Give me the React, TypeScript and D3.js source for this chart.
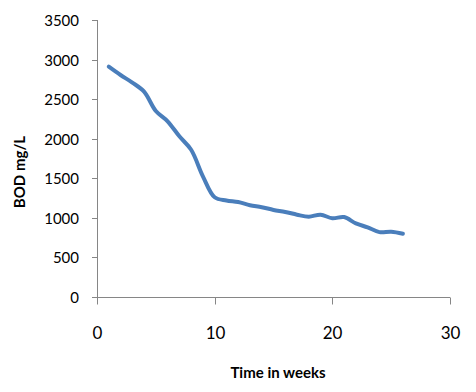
import { useEffect, useRef } from 'react';
import * as d3 from 'd3';

const weeks = [1, 2, 3, 4, 5, 6, 7, 8, 9, 10, 11, 12, 13, 14, 15, 16, 17, 18, 19, 20, 21, 22, 23, 24, 25, 26];
const bod = [2910, 2805, 2710, 2595, 2350, 2220, 2030, 1860, 1525, 1260, 1220, 1200, 1160, 1135, 1100, 1075, 1040, 1015, 1040, 995, 1010, 930, 880, 820, 825, 800];
const xTicks = [0, 10, 20, 30];
const yTicks = [0, 500, 1000, 1500, 2000, 2500, 3000, 3500];

export default function App() {
  const svgRef = useRef<SVGSVGElement>(null);

  useEffect(() => {
    const svg = d3.select(svgRef.current);
    svg.selectAll('*').remove();

    const W = 476, H = 392;
    const left = 97, right = 450, top = 20, bottom = 297;
    const font = 'Lato, "Open Sans", sans-serif';
    const axisColor = '#868686';

    svg.attr('width', W).attr('height', H);
    svg.append('rect').attr('width', W).attr('height', H).attr('fill', '#fff');

    const x = d3.scaleLinear().domain([0, 30]).range([left, right]);
    const y = d3.scaleLinear().domain([0, 3500]).range([bottom, top]);

    // y axis
    svg.append('line').attr('x1', left + 0.5).attr('x2', left + 0.5).attr('y1', top).attr('y2', bottom)
      .attr('stroke', axisColor);
    yTicks.forEach(v => {
      const yy = Math.round(y(v)) + 0.5;
      svg.append('line').attr('x1', left - 5).attr('x2', left).attr('y1', yy).attr('y2', yy)
        .attr('stroke', axisColor);
      svg.append('text').attr('x', 79).attr('y', yy + 5)
        .attr('text-anchor', 'end').attr('font-size', 15).attr('font-family', font).attr('fill', '#000')
        .text(v);
    });

    // x axis
    const by = Math.round(bottom) + 0.5;
    svg.append('line').attr('x1', left).attr('x2', right).attr('y1', by).attr('y2', by)
      .attr('stroke', axisColor);
    xTicks.forEach(v => {
      const xx = Math.round(x(v)) + 0.5;
      svg.append('line').attr('x1', xx).attr('x2', xx).attr('y1', by).attr('y2', by + 7)
        .attr('stroke', axisColor);
      svg.append('text').attr('x', xx).attr('y', 339)
        .attr('text-anchor', 'middle').attr('font-size', 17).attr('font-family', font).attr('fill', '#000')
        .text(v);
    });

    // series
    const pts: [number, number][] = weeks.map((w, i) => [w, bod[i]]);
    const line = d3.line<[number, number]>()
      .x(d => x(d[0]))
      .y(d => y(d[1]))
      .curve(d3.curveCatmullRom.alpha(0.5));
    svg.append('path').datum(pts).attr('d', line)
      .attr('fill', 'none').attr('stroke', '#4a7ebb').attr('stroke-width', 4)
      .attr('stroke-linejoin', 'round').attr('stroke-linecap', 'round');

    // titles
    svg.append('text').attr('x', 278).attr('y', 378)
      .attr('text-anchor', 'middle').attr('font-size', 15).attr('font-weight', 'bold')
      .attr('font-family', font).attr('fill', '#000')
      .text('Time in weeks');
    svg.append('text').attr('transform', 'translate(25,172) rotate(-90)')
      .attr('text-anchor', 'middle').attr('font-size', 15).attr('font-weight', 'bold')
      .attr('font-family', font).attr('fill', '#000')
      .text('BOD mg/L');
  }, []);

  return (
    <svg ref={svgRef} style={{ position: 'absolute', left: 0, top: 0, display: 'block' }} />
  );
}
